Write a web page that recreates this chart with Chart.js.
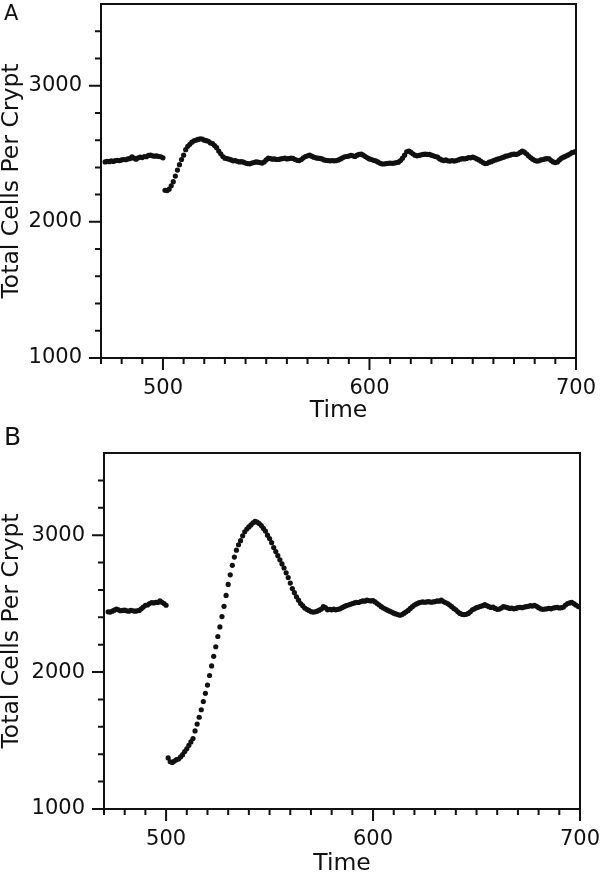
<!DOCTYPE html>
<html>
<head>
<meta charset="utf-8">
<script src="https://cdn.jsdelivr.net/npm/chart.js@4.4.1/dist/chart.umd.min.js"></script>
<style>
  html, body { margin: 0; padding: 0; background: #fff; }
  #wrap { position: relative; width: 600px; height: 873px; }
  canvas { position: absolute; left: 0; }
  #chartA { top: 0; }
  #chartB { top: 420px; }
  .panel { position: absolute; left: 4px; font-family: "DejaVu Sans", Verdana, sans-serif; color: #111; line-height: 1; }
</style>
</head>
<body>
<div id="wrap">
  <canvas id="chartA" width="600" height="420"></canvas>
  <canvas id="chartB" width="600" height="453"></canvas>
  <div class="panel" style="top:3px; font-size:21px">A</div>
  <div class="panel" style="top:424px; font-size:25px">B</div>
</div>
<script>
// sample times (same grid for both runs)
const times = [
  472,473,474,475,476,477,478,479,
  480,481,482,483,484,485,486,487,488,489,
  490,491,492,493,494,495,496,497,498,499,
  500,501,502,503,504,505,506,507,508,509,
  510,511,512,513,514,515,516,517,518,519,
  520,521,522,523,524,525,526,527,528,529,
  530,531,532,533,534,535,536,537,538,539,
  540,541,542,543,544,545,546,547,548,549,
  550,551,552,553,554,555,556,557,558,559,
  560,561,562,563,564,565,566,567,568,569,
  570,571,572,573,574,575,576,577,578,579,
  580,581,582,583,584,585,586,587,588,589,
  590,591,592,593,594,595,596,597,598,599,
  600,601,602,603,604,605,606,607,608,609,
  610,611,612,613,614,615,616,617,618,619,
  620,621,622,623,624,625,626,627,628,629,
  630,631,632,633,634,635,636,637,638,639,
  640,641,642,643,644,645,646,647,648,649,
  650,651,652,653,654,655,656,657,658,659,
  660,661,662,663,664,665,666,667,668,669,
  670,671,672,673,674,675,676,677,678,679,
  680,681,682,683,684,685,686,687,688,689,
  690,691,692,693,694,695,696,697,698,699,
  700
];

// panel A: total cells per crypt
const cellsA = [
  2440,2445,2442,2448,2444,2450,2452,2450,
  2455,2458,2456,2462,2465,2478,2468,2460,2470,2475,
  2472,2480,2478,2488,2490,2485,2482,2485,2480,2478,
  2470,2232,2230,2240,2265,2295,2336,2380,2420,2458,
  2490,2530,2555,2570,2585,2595,2600,2605,2610,2608,
  2600,2596,2592,2580,2575,2560,2545,2520,2500,2480,
  2468,2465,2460,2455,2448,2450,2445,2440,2442,2438,
  2432,2428,2426,2432,2435,2440,2438,2435,2432,2440,
  2455,2468,2465,2460,2462,2458,2458,2462,2465,2468,
  2462,2465,2468,2466,2458,2452,2450,2458,2470,2480,
  2485,2490,2482,2475,2470,2468,2466,2462,2455,2452,
  2450,2448,2450,2448,2450,2455,2462,2470,2478,2480,
  2483,2488,2485,2480,2490,2495,2498,2490,2480,2470,
  2462,2458,2452,2448,2440,2432,2426,2425,2428,2430,
  2432,2430,2432,2435,2438,2450,2468,2490,2515,2520,
  2512,2500,2490,2485,2488,2492,2495,2498,2495,2495,
  2490,2485,2480,2475,2462,2455,2450,2455,2448,2446,
  2450,2446,2450,2455,2460,2465,2462,2466,2472,2470,
  2475,2470,2462,2455,2445,2435,2428,2430,2438,2442,
  2450,2455,2460,2465,2470,2475,2482,2485,2490,2495,
  2498,2495,2500,2510,2520,2512,2500,2485,2472,2460,
  2452,2446,2448,2455,2458,2462,2465,2462,2450,2440,
  2435,2440,2455,2468,2475,2482,2490,2498,2508,2512,
  2518
];

// panel B: total cells per crypt
const cellsB = [
  2440,2438,2445,2452,2460,2455,2448,2450,
  2452,2447,2445,2450,2448,2445,2447,2450,2462,2475,
  2488,2490,2500,2508,2505,2510,2508,2520,2510,2500,
  2488,1373,1345,1340,1350,1360,1365,1380,1397,1420,
  1440,1465,1490,1515,1570,1620,1670,1725,1785,1845,
  1905,1975,2045,2115,2185,2260,2330,2405,2480,2560,
  2640,2710,2780,2840,2890,2930,2960,2995,3025,3045,
  3060,3075,3090,3100,3095,3085,3070,3050,3030,3000,
  2975,2945,2910,2880,2850,2820,2790,2760,2725,2690,
  2650,2610,2580,2550,2525,2500,2485,2468,2458,2450,
  2442,2438,2440,2445,2452,2460,2478,2470,2455,2458,
  2455,2460,2455,2458,2462,2470,2478,2485,2490,2495,
  2500,2505,2510,2508,2515,2520,2518,2525,2522,2520,
  2522,2512,2500,2490,2478,2468,2460,2452,2445,2438,
  2430,2425,2420,2415,2420,2430,2440,2450,2465,2478,
  2490,2498,2505,2510,2512,2510,2512,2515,2510,2512,
  2515,2520,2518,2525,2515,2508,2500,2490,2478,2465,
  2455,2440,2428,2422,2420,2422,2428,2440,2455,2462,
  2470,2475,2480,2485,2492,2485,2478,2472,2475,2465,
  2458,2460,2468,2478,2475,2470,2465,2468,2462,2465,
  2470,2472,2470,2475,2478,2480,2485,2482,2488,2480,
  2470,2462,2458,2460,2462,2465,2462,2468,2470,2472,
  2468,2470,2475,2490,2500,2505,2510,2500,2490,2480,
  2475
];

// axis ticks
const xLabels = [500, 600, 700];
const xMinor = [470,480,490,510,520,530,540,550,560,570,580,590,610,620,630,640,650,660,670,680,690];
const yLabels = [1000, 2000, 3000];
const yMinor = [1200,1400,1600,1800,2200,2400,2600,2800,3200,3400];

const ink = '#111';
const fontFamily = '"DejaVu Sans", Verdana, sans-serif';

// box round the plot plus long/short tick marks outside it
const frameTicks = {
  id: 'frameTicks',
  afterDraw(chart) {
    const { ctx, chartArea: a, scales: { x, y } } = chart;
    ctx.save();
    ctx.strokeStyle = ink;
    ctx.lineWidth = 2;
    ctx.strokeRect(a.left, a.top, a.right - a.left, a.bottom - a.top);
    ctx.beginPath();
    xLabels.forEach(v => { const p = x.getPixelForValue(v); ctx.moveTo(p, a.bottom); ctx.lineTo(p, a.bottom + 12); });
    xMinor.forEach(v => { const p = x.getPixelForValue(v); ctx.moveTo(p, a.bottom); ctx.lineTo(p, a.bottom + 6); });
    yLabels.forEach(v => { const p = y.getPixelForValue(v); ctx.moveTo(a.left, p); ctx.lineTo(a.left - 12, p); });
    yMinor.forEach(v => { const p = y.getPixelForValue(v); ctx.moveTo(a.left, p); ctx.lineTo(a.left - 6, p); });
    ctx.stroke();
    ctx.restore();
  }
};

// keep the plot box where the figure has it: no extra room for overhanging labels
function noPad(s) {
  s.paddingTop = 0; s.paddingBottom = 0; s.paddingLeft = 0; s.paddingRight = 0;
}

function makeChart(id, values, pad, yWidth, xHeight) {
  const ctx = document.getElementById(id).getContext('2d');
  return new Chart(ctx, {
    type: 'line',
    data: {
      labels: times,
      datasets: [{
        data: values,
        showLine: false,
        pointRadius: 2.6,
        pointBorderWidth: 0,
        pointBackgroundColor: ink,
        pointBorderColor: ink,
      }],
    },
    options: {
      responsive: false,
      animation: false,
      devicePixelRatio: 1,
      layout: { padding: pad },
      plugins: { legend: { display: false }, tooltip: { enabled: false } },
      scales: {
        x: {
          type: 'linear',
          min: 470,
          max: 700,
          grid: { display: false, drawTicks: false },
          border: { display: false },
          afterBuildTicks: s => { s.ticks = xLabels.map(v => ({ value: v })); },
          afterFit: s => { s.height = xHeight; noPad(s); },
          ticks: {
            color: ink, padding: 18, maxRotation: 0,
            font: { family: fontFamily, size: 21 },
            callback: v => String(v),
          },
          title: {
            display: true, text: 'Time', color: ink,
            padding: { top: 0, bottom: -3 },
            font: { family: fontFamily, size: 23.5, lineHeight: 1 },
          },
        },
        y: {
          min: 1000,
          max: 3600,
          grid: { display: false, drawTicks: false },
          border: { display: false },
          afterBuildTicks: s => { s.ticks = yLabels.map(v => ({ value: v })); },
          afterFit: s => { s.width = yWidth; noPad(s); },
          ticks: {
            color: ink, padding: 19,
            font: { family: fontFamily, size: 21 },
            callback: v => String(v),
          },
          title: {
            display: true, text: 'Total Cells Per Crypt', color: ink,
            padding: { top: 0, bottom: 0 },
            font: { family: fontFamily, size: 23.5, lineHeight: 1 },
          },
        },
      },
    },
    plugins: [frameTicks],
  });
}

makeChart('chartA', cellsA, { left: 0, right: 24, top: 1, bottom: 0 }, 101, 62);
makeChart('chartB', cellsB, { left: 0, right: 20, top: 33, bottom: 0 }, 104, 64);
</script>
</body>
</html>
